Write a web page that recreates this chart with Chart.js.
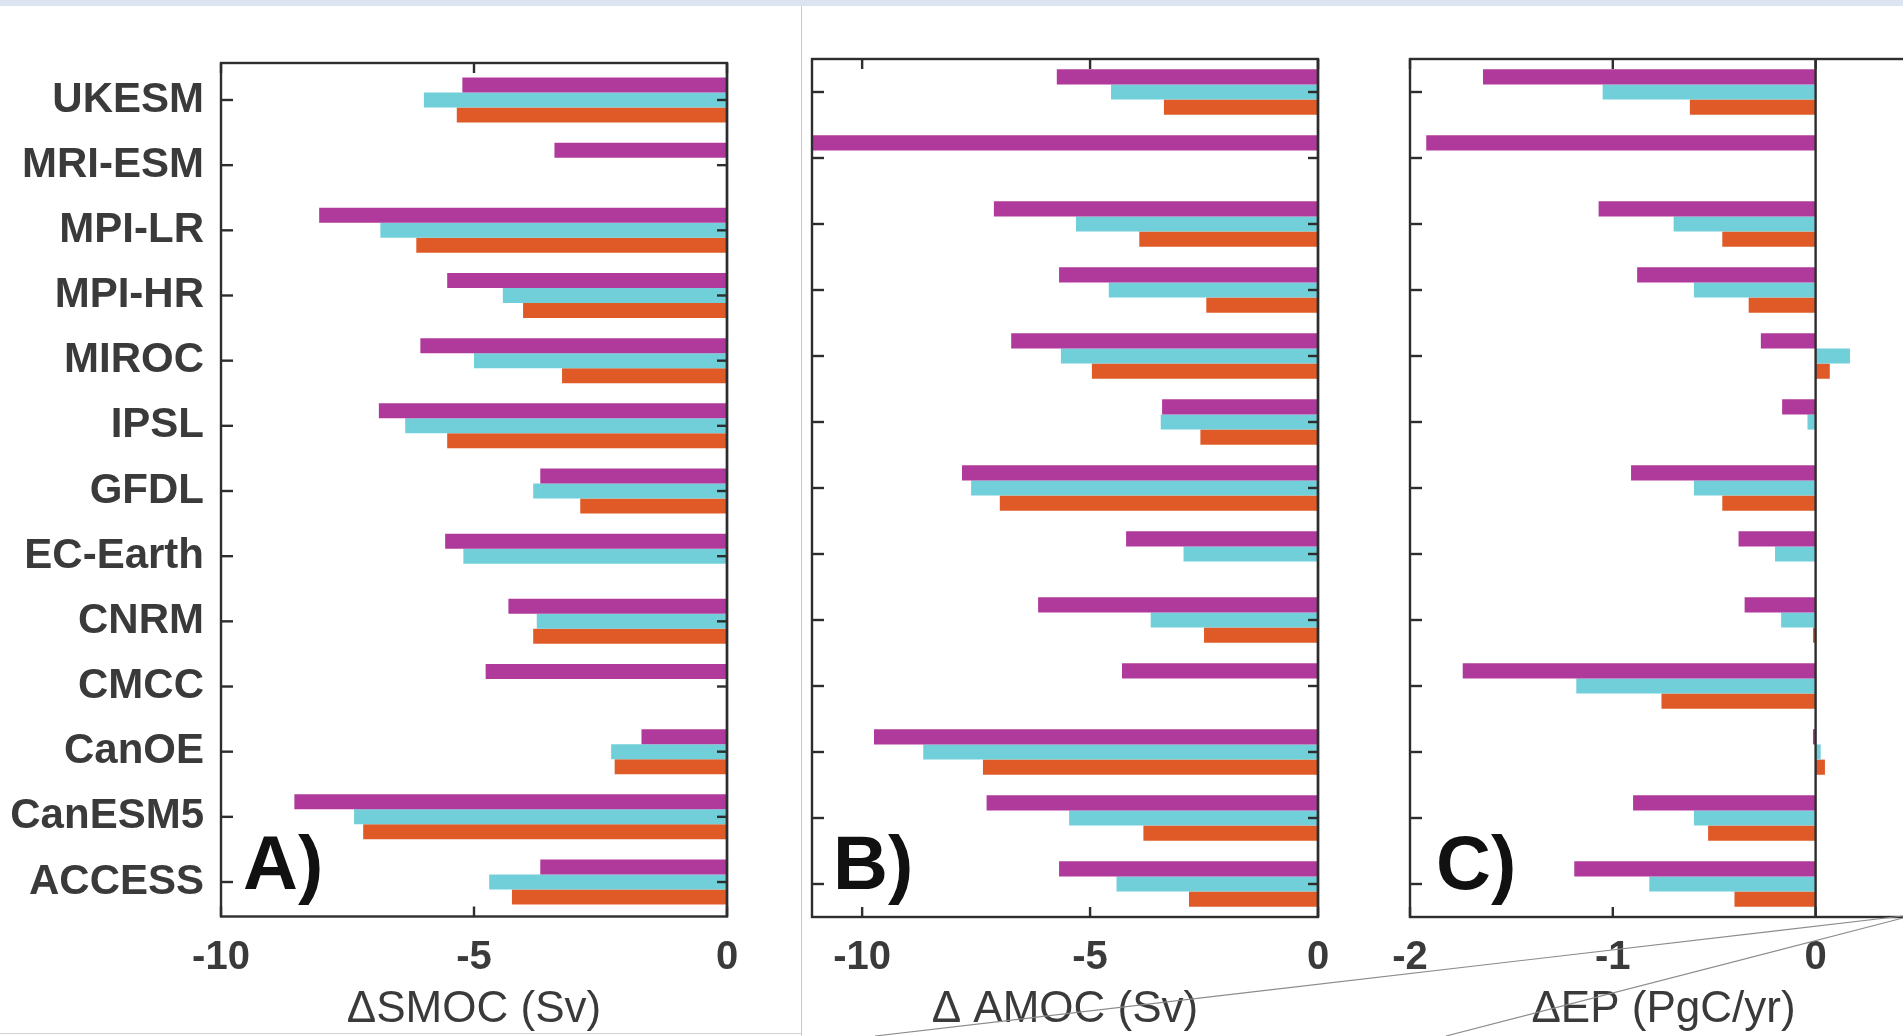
<!DOCTYPE html>
<html><head><meta charset="utf-8">
<script src="https://cdn.jsdelivr.net/npm/chart.js@4.4.1/dist/chart.umd.min.js"></script>
<style>
html,body{margin:0;padding:0;background:#fff;width:1903px;height:1036px;overflow:hidden;position:relative;}
canvas{position:absolute;}
#band{position:absolute;left:0;top:0;width:1903px;height:6px;background:#dce4f1;}
#sep{position:absolute;left:801px;top:6px;width:1px;height:1030px;background:#c9c9c9;}
#bot{position:absolute;left:0;top:1033px;width:801px;height:1px;background:#d2d2d2;}
#ov{position:absolute;left:0;top:0;pointer-events:none;}
</style></head><body>
<div id="band"></div>
<div id="sep"></div>
<div id="bot"></div>
<canvas id="cA" width="780" height="1036" style="left:0px;top:0px"></canvas>
<canvas id="cB" width="580" height="1036" style="left:780px;top:0px"></canvas>
<canvas id="cC" width="640" height="1036" style="left:1340px;top:0px"></canvas>
<svg id="ov" width="1903" height="1036">
<line x1="875" y1="1036" x2="1903" y2="916" stroke="#8c8c8c" stroke-width="1.2"/>
<line x1="1446" y1="1036" x2="1903" y2="918" stroke="#8c8c8c" stroke-width="1.2"/>
</svg>
<script>
const categories = ['UKESM','MRI-ESM','MPI-LR','MPI-HR','MIROC','IPSL','GFDL','EC-Earth','CNRM','CMCC','CanOE','CanESM5','ACCESS'];

const smocMagenta = [-5.23,-3.41,-8.06,-5.53,-6.06,-6.88,-3.69,-5.57,-4.32,-4.77,-1.69,-8.55,-3.69];
const smocCyan    = [-5.99,null,-6.85,-4.43,-5.00,-6.36,-3.83,-5.21,-3.76,null,-2.29,-7.37,-4.70];
const smocOrange  = [-5.34,null,-6.14,-4.03,-3.26,-5.53,-2.90,null,-3.83,null,-2.22,-7.19,-4.25];

const amocMagenta = [-5.73,-11.1,-7.11,-5.68,-6.73,-3.42,-7.81,-4.21,-6.14,-4.30,-9.74,-7.27,-5.68];
const amocCyan    = [-4.54,null,-5.31,-4.59,-5.64,-3.45,-7.61,-2.95,-3.67,null,-8.66,-5.46,-4.42];
const amocOrange  = [-3.38,null,-3.92,-2.45,-4.96,-2.58,-6.98,null,-2.50,null,-7.35,-3.83,-2.83];

const epMagenta = [-1.64,-1.92,-1.07,-0.88,-0.27,-0.165,-0.91,-0.38,-0.35,-1.74,-0.013,-0.90,-1.19];
const epCyan    = [-1.05,null,-0.70,-0.60,0.17,-0.04,-0.60,-0.20,-0.17,-1.18,0.025,-0.60,-0.82];
const epOrange  = [-0.62,null,-0.46,-0.33,0.07,null,-0.46,null,-0.013,-0.76,0.046,-0.53,-0.40];

const ticksSMOC = [-10,-5,0];
const ticksAMOC = [-10,-5,0];
const ticksEP = [-2,-1,0];

const COLORS = ['#b03a9b','#70cfd9','#df5a27'];
const TEXT = '#3a3a3a';
const FONT = '"Liberation Sans", Arial, sans-serif';

const framePlugin = {
  id: 'frame',
  afterDatasetsDraw(chart, args, o) {
    const {ctx, chartArea: {left, right}, scales: {x, y}} = chart;
    const top = o.frameTop != null ? o.frameTop : chart.chartArea.top;
    const bottom = o.frameBottom != null ? o.frameBottom : chart.chartArea.bottom;
    ctx.save();
    ctx.strokeStyle = '#2d2d2d';
    ctx.lineWidth = 2.4;
    ctx.strokeRect(left, top, right - left, bottom - top);
    const x0 = x.getPixelForValue(0);
    ctx.beginPath(); ctx.moveTo(x0, top); ctx.lineTo(x0, bottom); ctx.stroke();
    y.ticks.forEach((t, i) => {
      const py = y.getPixelForTick(i);
      ctx.beginPath(); ctx.moveTo(left, py); ctx.lineTo(left + 12, py); ctx.stroke();
      if (o.rightTicks) { ctx.beginPath(); ctx.moveTo(right, py); ctx.lineTo(right - 10, py); ctx.stroke(); }
    });
    x.ticks.forEach((t, i) => {
      const px = x.getPixelForTick(i);
      ctx.beginPath(); ctx.moveTo(px, top); ctx.lineTo(px, top + 10); ctx.stroke();
      ctx.beginPath(); ctx.moveTo(px, bottom); ctx.lineTo(px, bottom - 10); ctx.stroke();
    });
    ctx.fillStyle = '#111';
    ctx.font = 'bold 76px ' + FONT;
    ctx.textBaseline = 'alphabetic';
    ctx.fillText(o.letter, left + o.letterDx, 889);
    ctx.restore();
  }
};

function makePanel(id, cfg) {
  return new Chart(document.getElementById(id), {
    type: 'bar',
    data: {
      labels: categories,
      datasets: cfg.series.map((d, i) => ({
        data: d, backgroundColor: COLORS[i], borderWidth: 0,
        barPercentage: 1.0, categoryPercentage: 0.69
      }))
    },
    options: {
      indexAxis: 'y',
      responsive: false,
      animation: false,
      devicePixelRatio: 1,
      layout: { padding: { top: cfg.top, right: cfg.right, left: 0, bottom: 0 } },
      plugins: {
        legend: { display: false },
        tooltip: { enabled: false },
        frame: { letter: cfg.letter, letterDx: cfg.letterDx, rightTicks: cfg.rightTicks,
                 frameTop: cfg.frameTop, frameBottom: cfg.frameBottom }
      },
      scales: {
        x: {
          type: 'linear', min: cfg.min, max: cfg.max,
          afterBuildTicks: s => { s.ticks = cfg.ticks.map(v => ({ value: v })); },
          afterFit: s => { s.height = cfg.xh; },
          grid: { display: false, drawTicks: false },
          border: { display: false },
          ticks: { color: TEXT, font: { family: FONT, size: 40, weight: 'bold' }, padding: cfg.tickPad, maxRotation: 0 },
          title: { display: true, text: cfg.title, color: TEXT, font: { family: FONT, size: 44, weight: 'normal' }, padding: { top: 0, bottom: 0 } }
        },
        y: {
          type: 'category',
          offset: true,
          afterFit: s => { s.width = cfg.yw; },
          grid: { display: false, drawTicks: false },
          border: { display: false },
          ticks: { display: cfg.showLabels, color: TEXT, font: { family: FONT, size: 42, weight: 'bold' }, padding: 17, autoSkip: false }
        }
      }
    },
    plugins: [framePlugin]
  });
}

makePanel('cA', { series: [smocMagenta, smocCyan, smocOrange], min: -10, max: 0, ticks: ticksSMOC,
  title: 'ΔSMOC (Sv)', top: 67.4, right: 53, xh: 121.4, yw: 221, showLabels: true, letter: 'A)', letterDx: 22,
  rightTicks: true, frameTop: 63, frameBottom: 916.5, tickPad: 19 });
makePanel('cB', { series: [amocMagenta, amocCyan, amocOrange], min: -11.1, max: 0, ticks: ticksAMOC,
  title: 'Δ AMOC (Sv)', top: 59, right: 42, xh: 119, yw: 32, showLabels: false, letter: 'B)', letterDx: 21,
  rightTicks: true, tickPad: 17 });
makePanel('cC', { series: [epMagenta, epCyan, epOrange], min: -2, max: 0.5, ticks: ticksEP,
  title: 'ΔEP (PgC/yr)', top: 59, right: 63, xh: 119, yw: 70, showLabels: false, letter: 'C)', letterDx: 26,
  rightTicks: false, tickPad: 17 });
</script>
</body></html>
